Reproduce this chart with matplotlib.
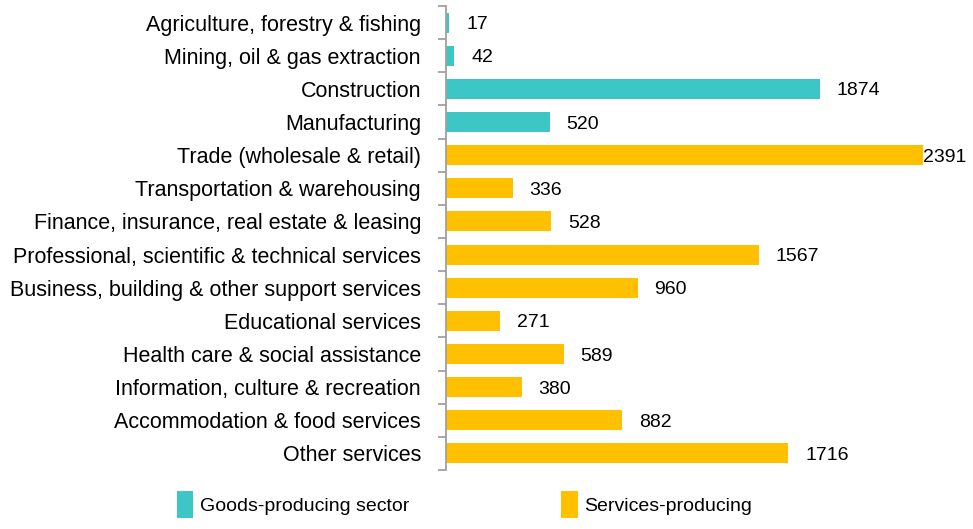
import numpy as np
import matplotlib.pyplot as plt

plt.rcParams['font.family'] = ['Liberation Sans', 'DejaVu Sans']

# Industries and values, top to bottom
industries = ['Agriculture, forestry & fishing', 'Mining, oil & gas extraction',
              'Construction', 'Manufacturing', 'Trade (wholesale & retail)',
              'Transportation & warehousing', 'Finance, insurance, real estate & leasing',
              'Professional, scientific & technical services',
              'Business, building & other support services', 'Educational services',
              'Health care & social assistance', 'Information, culture & recreation',
              'Accommodation & food services', 'Other services']
values = [17, 42, 1874, 520, 2391, 336, 528, 1567, 960, 271, 589, 380, 882, 1716]
sector = ['goods'] * 4 + ['services'] * 10

colors = {'goods': '#3CC6C6', 'services': '#FFC000'}
labels = {'goods': 'Goods-producing sector', 'services': 'Services-producing'}

fig = plt.figure(figsize=(9.73, 5.29), dpi=100)
ax = fig.add_axes([446 / 973, 1 - 470 / 529, 1 - 446 / 973, (470 - 6) / 529])

y = np.arange(len(industries))
for s in ['goods', 'services']:
    idx = [i for i, v in enumerate(sector) if v == s]
    ax.barh(y[idx], [values[i] for i in idx], height=0.6, color=colors[s], label=labels[s])

xmax = 2641
ax.set_xlim(0, xmax)
ax.set_ylim(len(industries) - 0.5, -0.5)

for i, v in enumerate(values):
    # keep the label of the longest bar inside the figure
    if v > 0.85 * xmax:
        ax.annotate(str(v), (v, i), xytext=(0, -1.5), textcoords='offset points',
                    va='center', ha='left', fontsize=14)
    else:
        ax.annotate(str(v), (v, i), xytext=(12, -1.5), textcoords='offset points',
                    va='center', ha='left', fontsize=14)

ax.set_yticks(y)
ax.set_yticklabels(industries, fontsize=15.5)
ax.tick_params(axis='y', which='major', length=0, pad=18)
ax.set_yticks(np.arange(-0.5, len(industries)), minor=True)
ax.tick_params(axis='y', which='minor', length=6, width=1.3, color='#A0A0A0')
ax.set_xticks([])
for side in ['top', 'right', 'bottom']:
    ax.spines[side].set_visible(False)
ax.spines['left'].set_color('#A0A0A0')
ax.spines['left'].set_linewidth(1.3)

fig.legend(loc='lower left', bbox_to_anchor=(166 / 973, 0.0), ncol=2, frameon=False,
           fontsize=14, handlelength=0.85, handleheight=1.75, handletextpad=0.35,
           columnspacing=7.8, borderaxespad=0.15)

fig.savefig('out.png', dpi=100)
